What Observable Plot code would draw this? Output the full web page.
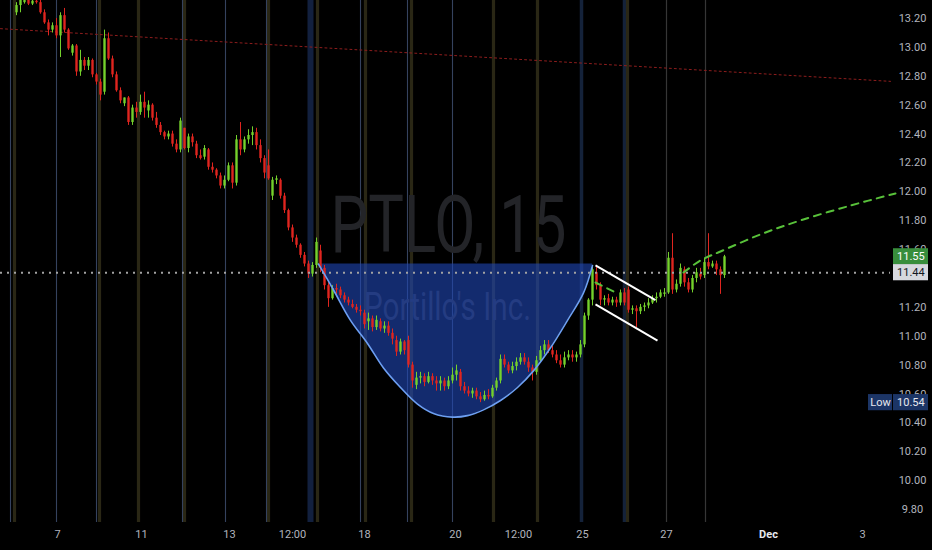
<!DOCTYPE html>
<html><head><meta charset="utf-8">
<script src="https://cdn.jsdelivr.net/npm/d3@7"></script>
<script src="https://cdn.jsdelivr.net/npm/@observablehq/plot@0.6"></script>
<style>html,body{margin:0;padding:0;background:#000;} #chart svg{display:block;}</style>
</head><body><div id="chart"></div>
<script>
// ---- data (x = 15-min bar index, y = price) ----
const firstBar = 4;
const ohlc = [
[13.24,13.31,13.22,13.29],[13.29,13.36,13.24,13.33],[13.31,13.36,13.30,13.33],[13.33,13.35,13.29,13.30],
[13.30,13.34,13.29,13.32],[13.32,13.35,13.30,13.31],[13.31,13.33,13.23,13.24],[13.24,13.26,13.16,13.17],
[13.17,13.19,13.08,13.12],[13.12,13.17,13.10,13.15],[13.15,13.20,13.06,13.08],[13.08,13.24,12.93,13.22],
[13.22,13.27,13.10,13.12],[13.12,13.13,12.98,12.99],[12.96,13.02,12.94,13.01],[13.01,13.02,12.80,12.83],
[12.83,12.98,12.80,12.91],[12.91,12.93,12.84,12.87],[12.87,12.93,12.84,12.91],[12.91,12.92,12.79,12.81],
[12.81,12.82,12.74,12.76],[12.76,12.78,12.63,12.67],[12.69,13.12,12.67,13.06],[13.06,13.10,12.91,12.92],
[12.92,12.94,12.79,12.81],[12.81,12.83,12.69,12.70],[12.70,12.72,12.61,12.63],[12.61,12.65,12.59,12.65],
[12.65,12.66,12.46,12.48],[12.48,12.60,12.46,12.58],[12.58,12.62,12.51,12.55],[12.55,12.67,12.53,12.62],
[12.62,12.69,12.51,12.58],[12.56,12.63,12.51,12.60],[12.60,12.61,12.49,12.51],[12.51,12.55,12.44,12.46],
[12.46,12.48,12.39,12.41],[12.41,12.42,12.36,12.38],[12.38,12.42,12.36,12.40],[12.40,12.42,12.31,12.33],
[12.33,12.36,12.27,12.29],[12.29,12.51,12.27,12.49],[12.44,12.44,12.29,12.30],[12.30,12.40,12.27,12.38],
[12.38,12.40,12.31,12.34],[12.33,12.35,12.23,12.25],[12.25,12.29,12.22,12.23],[12.24,12.32,12.22,12.30],
[12.29,12.30,12.15,12.17],[12.17,12.20,12.13,12.15],[12.15,12.16,12.09,12.11],[12.11,12.13,12.02,12.04],
[12.04,12.11,12.02,12.08],[12.08,12.20,12.07,12.18],[12.18,12.20,12.02,12.06],[12.06,12.39,12.04,12.36],
[12.36,12.48,12.25,12.29],[12.29,12.38,12.27,12.36],[12.36,12.43,12.33,12.39],[12.39,12.45,12.32,12.41],
[12.41,12.44,12.29,12.32],[12.32,12.36,12.20,12.23],[12.23,12.25,12.09,12.13],[12.18,12.29,12.08,12.09],
[11.97,12.10,11.94,12.08],[12.08,12.11,12.05,12.09],[12.08,12.09,11.95,11.97],[11.97,11.99,11.85,11.87],
[11.87,11.88,11.73,11.75],[11.75,11.77,11.65,11.68],[11.68,11.70,11.61,11.63],[11.63,11.64,11.54,11.56],
[11.56,11.58,11.48,11.50],[11.50,11.52,11.40,11.43],[11.43,11.51,11.41,11.49],[11.49,11.68,11.47,11.65],
[11.59,11.63,11.44,11.47],[11.47,11.49,11.32,11.35],[11.35,11.37,11.20,11.26],[11.26,11.35,11.25,11.33],
[11.33,11.36,11.29,11.32],[11.32,11.34,11.26,11.28],[11.28,11.30,11.23,11.25],[11.25,11.27,11.21,11.23],
[11.22,11.25,11.19,11.20],[11.20,11.22,11.16,11.18],[11.18,11.21,11.14,11.17],[11.16,11.18,11.05,11.08],
[11.10,11.16,11.04,11.12],[11.12,11.14,11.03,11.06],[11.06,11.14,11.04,11.11],[11.10,11.12,11.03,11.05],
[11.05,11.10,11.02,11.07],[11.07,11.10,11.00,11.02],[11.02,11.05,10.94,10.98],[10.97,11.00,10.86,10.89],
[10.89,10.98,10.87,10.96],[10.96,10.97,10.87,10.90],[10.97,11.00,10.78,10.80],[10.80,10.82,10.64,10.69],
[10.66,10.75,10.63,10.71],[10.71,10.75,10.67,10.72],[10.72,10.74,10.65,10.68],[10.68,10.75,10.67,10.72],
[10.72,10.74,10.66,10.69],[10.69,10.72,10.62,10.67],[10.67,10.72,10.62,10.69],[10.69,10.71,10.62,10.65],
[10.65,10.72,10.63,10.69],[10.69,10.78,10.67,10.73],[10.73,10.80,10.69,10.76],[10.75,10.77,10.62,10.65],
[10.65,10.68,10.60,10.62],[10.62,10.65,10.58,10.60],[10.60,10.64,10.57,10.62],[10.62,10.64,10.56,10.58],
[10.58,10.61,10.54,10.56],[10.56,10.62,10.55,10.59],[10.59,10.63,10.56,10.58],[10.58,10.66,10.57,10.64],
[10.64,10.71,10.62,10.69],[10.69,10.87,10.67,10.84],[10.84,10.87,10.78,10.80],[10.80,10.82,10.74,10.76],
[10.76,10.82,10.74,10.79],[10.79,10.85,10.76,10.82],[10.82,10.88,10.80,10.85],[10.85,10.88,10.80,10.82],
[10.82,10.85,10.75,10.78],[10.78,10.80,10.69,10.75],[10.75,10.86,10.73,10.83],[10.83,10.93,10.82,10.90],
[10.90,10.97,10.87,10.94],[10.94,10.97,10.88,10.90],[10.90,10.93,10.85,10.87],[10.87,10.90,10.81,10.83],
[10.83,10.87,10.78,10.80],[10.80,10.89,10.78,10.85],[10.85,10.90,10.83,10.87],[10.87,10.90,10.82,10.85],
[10.85,10.89,10.82,10.87],[10.87,10.97,10.85,10.94],[10.94,11.16,10.92,11.14],[11.14,11.26,11.11,11.25],
[11.25,11.49,11.21,11.46],[11.44,11.48,11.32,11.35],[11.35,11.37,11.21,11.25],[11.25,11.28,11.21,11.26],
[11.26,11.29,11.21,11.23],[11.23,11.27,11.21,11.25],[11.25,11.27,11.20,11.23],[11.23,11.32,11.21,11.30],
[11.30,11.33,11.21,11.23],[11.32,11.34,11.16,11.18],[11.18,11.21,11.15,11.19],[11.19,11.21,11.06,11.17],
[11.17,11.22,11.15,11.20],[11.20,11.23,11.17,11.21],[11.21,11.26,11.19,11.23],[11.23,11.28,11.22,11.26],
[11.26,11.30,11.23,11.27],[11.27,11.32,11.26,11.30],[11.29,11.33,11.27,11.30],[11.30,11.58,11.29,11.54],
[11.54,11.71,11.29,11.32],[11.32,11.39,11.30,11.36],[11.36,11.50,11.34,11.47],[11.46,11.48,11.34,11.37],
[11.37,11.40,11.30,11.32],[11.32,11.42,11.30,11.40],[11.40,11.47,11.37,11.44],[11.43,11.47,11.39,11.41],
[11.42,11.54,11.40,11.51],[11.51,11.71,11.46,11.48],[11.48,11.52,11.47,11.50],[11.50,11.52,11.42,11.46],
[11.46,11.48,11.29,11.42],[11.42,11.56,11.40,11.55]
];
const thinLines  = [2.5, 14, 24, 45.5, 56.25, 66.5, 90, 101.75, 113];
const greyLines  = [166.5, 176.25];
const oliveBands = [3.5, 24.75, 34.5, 46, 67, 79.25, 91.25, 102.75, 123.25, 134.25, 156.75];
const wideBands  = [77.5];
const blueBands  = [145.25, 156];
const cupX = [79.5, 83.25, 87.5, 91.75, 95.75, 100, 104.25, 108.25, 113, 116.75, 120.75, 125, 129.25, 133.25, 137.5, 141.75, 145.75, 148];
const cupY = [11.50, 11.32, 11.11, 10.95, 10.78, 10.645, 10.53, 10.465, 10.44, 10.45, 10.49, 10.555, 10.645, 10.76, 10.92, 11.11, 11.30, 11.49];
const cupTop = 11.50;
const trendX = [0, 222.5];
const trendY = [13.13, 12.765];
const chanX1 = [148.75, 148.75], chanY1 = [11.49, 11.22], chanX2 = [163.75, 164.25], chanY2 = [11.25, 10.97];
const projSeg = [0, 0, 1, 1, 1, 1, 1, 1, 1];
const projX = [148.75, 154, 170.75, 175, 180, 190, 200, 212.5, 223.75];
const projY = [11.372, 11.30, 11.441, 11.525, 11.587, 11.705, 11.802, 11.905, 11.989];
const priceLine = 11.44, lastPrice = 11.55, lowPrice = 10.54;
const yTicks = [13.2, 13.0, 12.8, 12.6, 12.4, 12.2, 12.0, 11.8, 11.6, 11.2, 11.0, 10.8, 10.6, 10.4, 10.2, 10.0, 9.8];
const xTickPos = [14.25, 35.25, 57.25, 73, 91, 113.75, 129.5, 145.5, 166.5, 192, 215.5];
const xTickLabels = ["7", "11", "13", "12:00", "18", "20", "12:00", "25", "27", "Dec", "3"];
const watermark = "PTLO, 15", watermarkSub = "Portillo's Inc.";

// ---- derived tables ----
const candles = ohlc.map(([o, h, l, c], k) => ({i: firstBar + k, o, h, l, c}));
const up = candles.filter(d => d.c >= d.o), down = candles.filter(d => d.c < d.o);
const cup = cupX.map((x, k) => ({x, y: cupY[k]}));
const trend = trendX.map((x, k) => ({x, y: trendY[k]}));
const chan = chanX1.map((x1, k) => ({x1, y1: chanY1[k], x2: chanX2[k], y2: chanY2[k]}));
const proj = projX.map((x, k) => ({x, y: projY[k], s: projSeg[k]}));
const xt = xTickPos.map((x, k) => ({x, t: xTickLabels[k]}));
const G = "#74d12c", R = "#e0251f", AX = "#b2b5be";
const hh = 0.056; // half label-box height in price units

const chart = Plot.plot({
  width: 932, height: 550,
  marginTop: 0, marginRight: 42, marginBottom: 28, marginLeft: 0,
  x: {domain: [0, 222.5], axis: null},
  y: {domain: [9.71, 13.325], axis: null},
  style: {background: "#000", fontFamily: "Roboto, 'Liberation Sans', sans-serif"},
  marks: [
    Plot.ruleX(wideBands, {stroke: "#12203e", strokeWidth: 6}),
    Plot.ruleX(blueBands, {stroke: "#14223a", strokeWidth: 3.5}),
    Plot.ruleX(oliveBands, {stroke: "#2a2715", strokeWidth: 3.2}),
    Plot.ruleX(thinLines, {stroke: "#35425e", strokeWidth: 1.1}),
    Plot.ruleX(greyLines, {stroke: "#363636", strokeWidth: 1.2}),
    Plot.line(trend, {x: "x", y: "y", stroke: "#8e1d1d", strokeWidth: 1, strokeDasharray: "2,3"}),
    Plot.text([watermark], {x: 112, y: 11.58, text: d => d, fill: "#232428", fontSize: 80, textAnchor: "middle", lineAnchor: "bottom"}),
    Plot.text([watermarkSub], {x: 111.75, y: 11.11, text: d => d, fill: "#2b2c33", fontSize: 39, textAnchor: "middle", lineAnchor: "bottom"}),
    Plot.areaY(cup, {x: "x", y1: cupTop, y2: "y", curve: "catmull-rom", fill: "#1f47b8", fillOpacity: 0.6}),
    Plot.ruleX(up, {x: "i", y1: "l", y2: "h", stroke: G, strokeWidth: 1}),
    Plot.ruleX(down, {x: "i", y1: "l", y2: "h", stroke: R, strokeWidth: 1}),
    Plot.ruleX(up, {x: "i", y1: "o", y2: "c", stroke: G, strokeWidth: 2.4}),
    Plot.ruleX(down, {x: "i", y1: "o", y2: "c", stroke: R, strokeWidth: 2.4}),
    Plot.ruleY([priceLine], {stroke: "#a3a3a3", strokeWidth: 2, strokeDasharray: "2,5"}),
    Plot.line(cup, {x: "x", y: "y", curve: "catmull-rom", stroke: "#6d9ff2", strokeWidth: 1.6}),
    Plot.link(chan, {x1: "x1", y1: "y1", x2: "x2", y2: "y2", stroke: "#ffffff", strokeWidth: 2}),
    Plot.line(proj, {x: "x", y: "y", z: "s", curve: "catmull-rom", stroke: "#58c13a", strokeWidth: 2, strokeDasharray: "7,6"}),
    Plot.text(yTicks, {x: 228, y: d => d, text: d => d.toFixed(2), fill: AX, fontSize: 11, textAnchor: "middle"}),
    Plot.rect([lastPrice], {x1: 223.25, x2: 232, y1: d => d - hh, y2: d => d + hh, fill: "#388e3c"}),
    Plot.text([lastPrice], {x: 227.6, y: d => d, text: d => d.toFixed(2), fill: "#ffffff", fontSize: 11, textAnchor: "middle"}),
    Plot.rect([priceLine], {x1: 223.25, x2: 232, y1: d => d - hh, y2: d => d + hh, fill: "#d6d8de"}),
    Plot.text([priceLine], {x: 227.6, y: d => d, text: d => d.toFixed(2), fill: "#131722", fontSize: 11, textAnchor: "middle"}),
    Plot.rect([lowPrice], {x1: 217, x2: 223, y1: d => d - hh, y2: d => d + hh, fill: "#1c3566"}),
    Plot.rect([lowPrice], {x1: 223.25, x2: 232, y1: d => d - hh, y2: d => d + hh, fill: "#1c3566"}),
    Plot.text([lowPrice], {x: 220, y: d => d, text: () => "Low", fill: "#e6e8ee", fontSize: 11, textAnchor: "middle"}),
    Plot.text([lowPrice], {x: 227.6, y: d => d, text: d => d.toFixed(2), fill: "#e6e8ee", fontSize: 11, textAnchor: "middle"}),
    Plot.text(xt.filter(d => d.t !== "Dec"), {x: "x", text: "t", frameAnchor: "bottom", dy: 15, fill: AX, fontSize: 11, textAnchor: "middle"}),
    Plot.text(xt.filter(d => d.t === "Dec"), {x: "x", text: "t", frameAnchor: "bottom", dy: 15, fill: "#e6e8ee", fontSize: 11, fontWeight: "bold", textAnchor: "middle"})
  ]
});
document.getElementById("chart").appendChild(chart);
d3.select(chart).selectAll("text").each(function() {
  const t = this.textContent;
  if (t === watermark) d3.select(this).attr("textLength", 236).attr("lengthAdjust", "spacingAndGlyphs");
  if (t === watermarkSub) d3.select(this).attr("textLength", 167).attr("lengthAdjust", "spacingAndGlyphs");
});
</script>
</body></html>
